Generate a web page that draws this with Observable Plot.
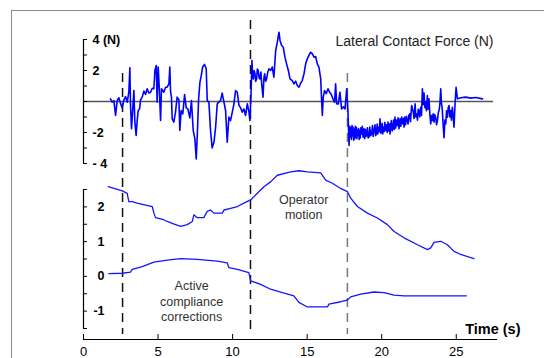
<!DOCTYPE html>
<html>
<head>
<meta charset="utf-8">
<script src="https://cdn.jsdelivr.net/npm/d3@7"></script>
<script src="https://cdn.jsdelivr.net/npm/@observablehq/plot@0.6"></script>
<style>
  html, body { margin: 0; padding: 0; background: #fff; }
  #wrap { position: relative; width: 544px; height: 358px; overflow: hidden; font-family: "Liberation Sans", Arial, sans-serif; }
  #border { position: absolute; left: 11px; top: 10px; width: 540px; height: 360px; border-top: 1.5px solid #8a8a8a; border-left: 1.5px solid #8a8a8a; }
  #wrap svg { position: absolute; left: 0; top: 0; }
</style>
</head>
<body>
<div id="wrap"><div id="border"></div></div>
<script>
// ---- Data ----
const timeDomain = [0, 27.7];
const timeTicks = [0, 5, 10, 15, 20, 25];

// Lateral contact force (N): [time s, force N]
const forcePts = [
[1.81,0.17],[1.92,-0.04],[2.04,0.06],[2.15,-0.90],[2.26,0.06],[2.37,0.24],[2.48,-0.11],[2.59,-0.41],[2.71,0.11],[2.82,0.32],
[2.93,-0.04],[3.04,0.60],[3.11,2.17],[3.15,-0.15],[3.22,-1.76],[3.31,-0.37],[3.38,0.71],[3.44,-1.23],[3.53,-2.19],[3.60,-1.23],
[3.67,-0.58],[3.76,-0.48],[3.83,0.11],[3.94,0.28],[4.05,0.67],[4.16,0.45],[4.27,0.82],[4.38,0.55],[4.50,0.60],[4.61,0.85],[4.72,0.82],
[4.79,2.00],[4.88,2.32],[4.94,-0.04],[5.01,2.22],[5.08,0.92],[5.17,-1.23],[5.23,0.82],[5.39,0.60],[5.50,0.92],[5.61,0.92],
[5.73,1.14],[5.79,2.22],[5.84,0.60],[5.90,0.28],[5.95,-1.12],[6.06,-1.33],[6.17,-0.69],[6.28,0.28],[6.40,0.11],[6.46,-1.87],
[6.55,-0.58],[6.66,-0.80],[6.78,0.45],[6.89,-0.41],[7.00,-0.48],[7.13,-1.06],[7.24,0.06],[7.36,-1.87],[7.47,-2.41],[7.56,-3.70],
[7.63,-2.19],[7.72,0.17],[7.81,1.25],[7.90,1.68],[7.99,2.22],[8.12,2.39],[8.23,2.11],[8.30,0.06],[8.41,-0.04],[8.52,-1.87],
[8.63,-2.99],[8.75,-2.63],[8.86,-1.66],[8.97,-0.15],[9.08,-0.04],[9.19,0.06],[9.30,0.54],[9.42,-0.04],[9.53,-0.58],[9.64,-2.63],
[9.75,-1.01],[9.86,-1.23],[9.98,-0.69],[10.09,-0.15],[10.20,0.71],[10.31,0.60],[10.43,-0.26],[10.54,-0.41],[10.65,-0.69],[10.76,-0.48],
[10.87,-0.90],[10.99,-0.15],[11.10,-0.69],[11.16,-1.23],[11.23,0.28],[11.30,2.65],[11.34,1.60],[11.39,1.46],[11.44,2.00],[11.50,1.79],[11.55,1.30],
[11.61,1.46],[11.66,2.10],[11.72,2.00],[11.78,1.50],[11.83,1.46],[11.90,1.90],[11.95,1.14],[12.04,0.28],[12.10,1.50],[12.15,1.79],[12.22,1.30],[12.28,1.46],
[12.36,1.90],[12.44,2.11],[12.55,2.00],[12.66,2.22],[12.77,1.57],[12.89,3.29],[13.00,3.83],[13.11,4.47],[13.18,3.94],[13.29,3.61],[13.40,3.50],
[13.51,2.86],[13.62,2.43],[13.74,2.00],[13.85,1.46],[14.00,1.35],[14.12,1.14],[14.23,1.31],[14.34,1.03],[14.45,0.92],[14.56,1.18],
[14.67,1.35],[14.79,1.79],[14.90,2.43],[15.01,2.75],[15.12,2.97],[15.23,3.18],[15.35,3.07],[15.46,2.86],[15.57,2.90],[15.68,2.43],
[15.79,2.22],[15.91,1.46],[15.97,0.06],[16.02,-0.90],[16.08,0.28],[16.17,0.71],[16.28,0.50],[16.40,0.82],[16.51,0.60],[16.62,0.45],
[16.73,0.17],[16.84,-0.04],[16.91,1.14],[16.98,-0.15],[17.09,-0.15],[17.20,0.60],[17.31,-0.48],[17.43,-0.34],[17.54,-0.48],[17.65,0.82],
[17.74,-0.69],[17.81,-2.84],[17.86,-1.60],[17.90,-2.30],[17.94,-1.70],[17.97,-2.45],[18.01,-1.55],[18.05,-2.20],[18.08,-1.66],[18.12,-2.50],
[18.16,-1.80],[18.19,-2.41],[18.23,-1.60],[18.27,-2.30],[18.30,-1.66],[18.34,-2.40],[18.38,-1.85],[18.41,-2.19],[18.45,-1.75],[18.49,-2.45],
[18.52,-1.87],[18.56,-2.35],[18.60,-1.70],[18.66,-2.09],[18.70,-1.60],[18.75,-2.30],[18.81,-1.76],[18.86,-2.40],[18.90,-1.80],[18.95,-2.25],
[18.99,-2.19],[19.04,-1.70],[19.09,-2.35],[19.15,-2.30],[19.20,-1.65],[19.26,-2.20],[19.33,-2.09],[19.38,-1.55],[19.43,-2.25],[19.49,-1.87],
[19.55,-1.50],[19.60,-2.20],[19.64,-2.09],[19.70,-1.45],[19.74,-2.10],[19.78,-1.66],[19.84,-1.95],[19.89,-1.12],[19.94,-2.05],[19.98,-1.98],
[20.03,-1.40],[20.07,-2.10],[20.11,-1.66],[20.16,-1.95],[20.21,-1.35],[20.27,-1.87],[20.32,-1.50],[20.37,-2.00],[20.42,-1.33],[20.48,-1.90],
[20.52,-1.45],[20.56,-2.09],[20.60,-1.50],[20.65,-1.23],[20.70,-1.90],[20.76,-1.66],[20.80,-1.20],[20.85,-1.80],[20.89,-1.01],[20.94,-1.70],
[21.00,-1.20],[21.05,-1.55],[21.10,-1.05],[21.16,-1.75],[21.23,-1.12],[21.28,-1.60],[21.34,-1.00],[21.39,-1.44],[21.45,-1.10],[21.50,-1.65],
[21.54,-1.01],[21.60,-1.50],[21.66,-0.95],[21.72,-1.23],[21.77,-1.45],[21.82,-0.90],[21.88,-0.80],[21.93,-1.30],[22.01,-0.26],[22.12,-0.69],
[22.17,-1.10],[22.24,-0.15],[22.29,-1.00],[22.35,-0.80],[22.40,-1.20],[22.45,-0.50],[22.50,-0.58],[22.55,-1.00],[22.62,-0.37],[22.67,-0.90],
[22.73,0.82],[22.78,-0.20],[22.84,0.54],[22.90,-0.40],[22.95,-0.04],[23.00,-0.60],[23.06,0.39],[23.11,-0.50],[23.17,0.17],[23.23,-0.80],
[23.29,-1.44],[23.34,-0.90],[23.40,-1.23],[23.45,-0.80],[23.51,-1.33],[23.56,-0.85],[23.62,-1.01],[23.68,-1.50],[23.74,-1.23],[23.80,-0.70],
[23.85,-0.58],[23.90,-0.20],[23.96,0.82],[24.01,-0.10],[24.07,-0.58],[24.12,-1.50],[24.18,-2.34],[24.24,-1.20],[24.30,-1.44],[24.35,-0.60],
[24.41,-1.01],[24.46,-0.40],[24.52,-0.26],[24.57,-1.00],[24.63,-0.58],[24.68,-1.20],[24.74,-0.37],[24.80,-1.00],[24.85,-1.66],[24.92,-0.15],
[24.99,0.92],[25.08,0.17],[25.30,0.24],[25.64,0.28],[25.97,0.22],[26.31,0.26],[26.76,0.17]
];

// Operator motion: [time s, value]
const motionPts = [
[1.66,2.58],[2.60,2.46],[2.93,2.39],[3.04,2.15],[3.27,2.15],[3.60,2.11],[4.61,2.01],[4.72,1.82],[4.83,1.69],[5.37,1.63],
[5.62,1.58],[6.04,1.51],[6.51,1.44],[6.96,1.49],[7.30,1.58],[7.40,1.77],[7.63,1.69],[8.07,1.69],[8.30,1.87],[8.52,1.91],
[8.74,1.82],[9.31,1.82],[9.42,1.91],[9.87,1.96],[10.32,2.01],[10.76,2.11],[11.21,2.20],[11.66,2.39],[12.10,2.58],[12.55,2.72],
[13.00,2.91],[13.89,3.01],[14.45,3.04],[15.01,3.01],[15.91,2.98],[16.24,2.77],[16.69,2.68],[17.25,2.53],[17.70,2.44],[17.92,2.25],
[18.37,2.01],[19.04,1.82],[19.71,1.68],[20.38,1.49],[20.83,1.29],[21.50,1.11],[22.40,0.91],[23.07,0.77],[23.29,0.82],[23.51,0.98],
[23.96,1.01],[24.41,0.91],[24.85,0.72],[25.30,0.63],[26.19,0.51]
];

// Active compliance corrections: [time s, value]
const corrPts = [
[1.70,0.08],[2.60,0.09],[3.15,0.12],[3.27,0.20],[3.94,0.28],[4.72,0.41],[5.62,0.47],[6.51,0.51],[7.63,0.49],[8.97,0.44],
[9.64,0.39],[9.75,0.25],[10.32,0.20],[11.09,0.11],[11.21,-0.13],[11.88,-0.23],[12.55,-0.37],[13.22,-0.45],[14.11,-0.56],[14.45,-0.75],
[15.01,-0.88],[16.36,-0.88],[16.46,-0.80],[17.25,-0.73],[17.70,-0.68],[17.92,-0.59],[18.59,-0.51],[19.48,-0.45],[20.15,-0.47],[20.83,-0.54],
[21.50,-0.56],[25.68,-0.56]
];

// Event markers (s)
const eventT = [2.62, 11.2, 17.7];
const eventColor = ["#111", "#111", "#777"];
const eventFromTop = [true, false, true];

// Axes
const forceDomain = [-4, 4];
const forceTicks = [-4, -3, -2, -1, 0, 1, 2, 3, 4];
const forceLabelTicks = [4, 2, -2, -4];
const forceLabels = {"4": "4 (N)", "2": "2", "-2": "-2", "-4": "- 4"};
const lowerDomain = [-1.5, 2.5];
const lowerTicks = [-1.5, -1, -0.5, 0, 0.5, 1, 1.5, 2, 2.5];
const lowerLabels = [-1, 0, 1, 2];

const title = "Lateral Contact Force (N)";
const xLabel = "Time (s)";
const notes = [
  {t: 14.77, v: 2.01, text: "Operator\nmotion"},
  {t: 7.25, v: -0.70, text: "Active\ncompliance\ncorrections"}
];

// ---- Build ----
const toRows = pts => pts.map(([t, v]) => ({t, v}));
const force = toRows(forcePts);
const motion = toRows(motionPts);
const corr = toRows(corrPts);
const events = eventT.map((t, i) => ({t, color: eventColor[i], fromTop: eventFromTop[i]}));
const blank = () => "";

const common = {
  width: 544, height: 358,
  marginLeft: 83, marginRight: 48, marginTop: 20, marginBottom: 19,
  style: {fontFamily: "'Liberation Sans', Arial, sans-serif", background: "transparent", overflow: "visible", color: "#000"}
};

const lower = Plot.plot({
  ...common,
  x: {domain: timeDomain},
  y: {domain: lowerDomain, range: [328, 189]},
  marks: [
    ...events.map(e => Plot.ruleX([e.t], {stroke: e.color, strokeWidth: 1.5, strokeDasharray: "9,6", insetTop: e.fromTop ? 53 : 0, insetBottom: 5})),
    Plot.frame({anchor: "bottom", stroke: "#000", strokeWidth: 1.2}),
    Plot.axisX({ticks: timeTicks, tickSize: -5, tickFormat: blank, label: null}),
    Plot.axisX({ticks: timeTicks, tickSize: 0, tickPadding: 7, fontSize: 13, tickFormat: d => String(d), label: null}),
    Plot.ruleX([0], {y1: lowerDomain[0], y2: lowerDomain[1], stroke: "#000", strokeWidth: 1.2}),
    Plot.axisY({ticks: lowerTicks, tickSize: -4, tickFormat: blank, label: null}),
    Plot.axisY({ticks: lowerLabels, tickSize: 0, tickPadding: 0, dx: 21, fontSize: 12.5, fontWeight: "bold", tickFormat: d => String(d), label: null}),
    Plot.line(motion, {x: "t", y: "v", stroke: "#1414ff", strokeWidth: 1.3}),
    Plot.line(corr, {x: "t", y: "v", stroke: "#1414ff", strokeWidth: 1.3}),
    Plot.text(notes, {x: "t", y: "v", text: "text", fontSize: 12.5, fill: "#333", lineHeight: 1.25}),
    Plot.text([xLabel], {frameAnchor: "bottom-right", textAnchor: "end", dx: 24, dy: -6, lineAnchor: "bottom", fontSize: 14.5, fontWeight: "bold"})
  ]
});

const upper = Plot.plot({
  ...common,
  x: {domain: timeDomain, axis: null},
  y: {domain: forceDomain, range: [163, 39]},
  marks: [
    Plot.ruleY([0], {x1: 0, x2: 27.5, stroke: "#555", strokeWidth: 1.5}),
    Plot.ruleX([0], {y1: forceDomain[0], y2: forceDomain[1], stroke: "#000", strokeWidth: 1.2}),
    Plot.axisY({ticks: forceTicks, tickSize: -4, tickFormat: blank, label: null}),
    Plot.axisY({ticks: forceLabelTicks, tickSize: 0, tickPadding: 0, dx: 9, textAnchor: "start", fontSize: 12.5, fontWeight: "bold", tickFormat: d => forceLabels[d], label: null}),
    Plot.line(force, {x: "t", y: "v", stroke: "#0000ff", strokeWidth: 1.6}),
    Plot.text([title], {frameAnchor: "top-right", textAnchor: "end", dx: -3, dy: 16, fontSize: 14, fill: "#222"})
  ]
});

const wrap = document.getElementById("wrap");
wrap.appendChild(lower);
wrap.appendChild(upper);
</script>
</body>
</html>
